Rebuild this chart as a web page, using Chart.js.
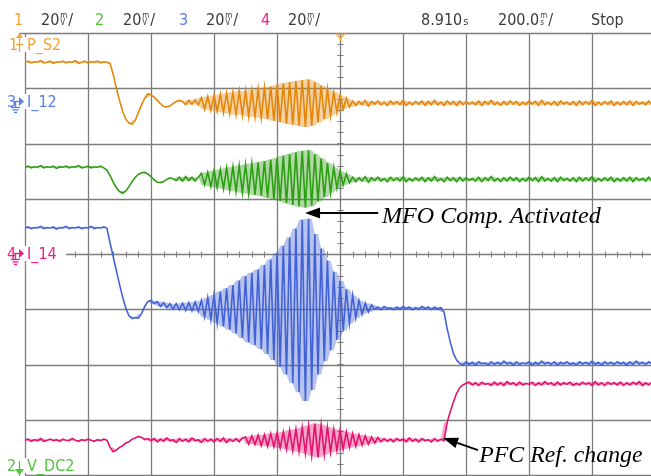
<!DOCTYPE html>
<html>
<head>
<meta charset="utf-8">
<script src="https://cdn.jsdelivr.net/npm/chart.js@4.4.1/dist/chart.umd.min.js"></script>
<style>
  html, body { margin: 0; padding: 0; background: #fff; }
  #wrap { width: 651px; height: 476px; position: relative; }
</style>
</head>
<body>
<div id="wrap"><canvas id="scope"></canvas></div>
<script>
// Sample time base: 200 samples, 10 ms apart, trigger at sample 100 (200 ms/div)
const timeMs = Array.from({ length: 200 }, (_, i) => (i - 100) * 10);

// Channel readings in screen divisions (20 V/div on every channel)
const pS2 = [
  3.47, 3.49, 3.46, 3.48, 3.47, 3.50, 3.46, 3.47, 3.49, 3.45, 3.48, 3.47, 3.49, 3.46, 3.48, 3.47, 3.50, 3.45, 3.47, 3.49, 3.46, 3.48, 3.47, 3.49, 3.46, 3.48, 3.47,
  3.45, 3.25, 3.00, 2.78, 2.58, 2.44, 2.37, 2.35, 2.42, 2.56, 2.70, 2.82, 2.90, 2.88, 2.84, 2.78, 2.72, 2.67, 2.66, 2.68, 2.72, 2.76, 2.78, 2.76, 2.70, 2.78, 2.71, 2.79, 2.70,
  2.83, 2.62, 2.85, 2.60, 2.87, 2.58, 2.89, 2.56, 2.91, 2.54, 2.93, 2.52, 2.95, 2.51, 2.96, 2.49, 2.97, 2.48, 2.99, 2.46,
  3.01, 2.44, 3.03, 2.41, 3.06, 2.39, 3.09, 2.36, 3.11, 2.34, 3.13, 2.32, 3.15, 2.30, 3.16, 2.32, 3.11, 2.38, 3.05, 2.44,
  2.99, 2.50, 2.93, 2.56, 2.87, 2.62, 2.82, 2.66,
  2.77, 2.69, 2.76, 2.70, 2.78, 2.68, 2.76, 2.71, 2.77, 2.70, 2.75, 2.69, 2.77, 2.71, 2.76, 2.70,
  2.78, 2.69, 2.75, 2.70, 2.76, 2.71, 2.77, 2.69, 2.76, 2.70, 2.78, 2.70, 2.75, 2.69, 2.77, 2.71,
  2.76, 2.69, 2.77, 2.70, 2.76, 2.71, 2.75, 2.70, 2.77, 2.69, 2.76, 2.71, 2.78, 2.70, 2.75, 2.69,
  2.76, 2.70, 2.77, 2.71, 2.76, 2.69, 2.75, 2.70, 2.77, 2.71, 2.76, 2.69, 2.78, 2.70, 2.75, 2.70,
  2.76, 2.69, 2.77, 2.71, 2.75, 2.70, 2.76, 2.69, 2.77, 2.70, 2.76, 2.71, 2.78, 2.69, 2.75, 2.70,
  2.76, 2.71, 2.77, 2.69, 2.75, 2.70, 2.76, 2.70, 2.77, 2.69, 2.76, 2.71, 2.75, 2.70, 2.77, 2.70
];

const vDC2 = [
  1.57, 1.59, 1.56, 1.58, 1.57, 1.60, 1.56, 1.58, 1.57, 1.59, 1.55, 1.58, 1.57, 1.59, 1.56, 1.58, 1.57, 1.60, 1.56, 1.57, 1.59, 1.56, 1.58, 1.57, 1.59, 1.56,
  1.52, 1.42, 1.30, 1.20, 1.13, 1.10, 1.14, 1.22, 1.31, 1.39, 1.44, 1.47, 1.48, 1.45, 1.40, 1.34, 1.30, 1.29, 1.31, 1.35, 1.38, 1.36, 1.33, 1.39, 1.32, 1.40, 1.33, 1.39, 1.32, 1.39,
  1.46, 1.25, 1.48, 1.22, 1.51, 1.20, 1.53, 1.18, 1.56, 1.15, 1.58, 1.13, 1.60, 1.11, 1.62, 1.09, 1.64, 1.07, 1.66, 1.05,
  1.68, 1.02, 1.71, 0.99, 1.74, 0.96, 1.78, 0.92, 1.81, 0.89, 1.84, 0.86, 1.87, 0.84, 1.88, 0.87, 1.81, 0.95, 1.73, 1.03,
  1.65, 1.11, 1.57, 1.19, 1.50, 1.25, 1.45, 1.29,
  1.39, 1.31, 1.38, 1.32, 1.40, 1.30, 1.38, 1.33, 1.39, 1.32, 1.37, 1.31, 1.39, 1.33, 1.38, 1.32,
  1.40, 1.31, 1.37, 1.32, 1.38, 1.33, 1.39, 1.31, 1.38, 1.32, 1.40, 1.32, 1.37, 1.31, 1.39, 1.33,
  1.38, 1.31, 1.39, 1.32, 1.38, 1.33, 1.37, 1.32, 1.39, 1.31, 1.38, 1.33, 1.40, 1.32, 1.37, 1.31,
  1.38, 1.32, 1.39, 1.33, 1.38, 1.31, 1.37, 1.32, 1.39, 1.33, 1.38, 1.31, 1.40, 1.32, 1.37, 1.32,
  1.38, 1.31, 1.39, 1.33, 1.37, 1.32, 1.38, 1.31, 1.39, 1.32, 1.38, 1.33, 1.40, 1.31, 1.37, 1.32,
  1.38, 1.33, 1.39, 1.31, 1.37, 1.32, 1.38, 1.32, 1.39, 1.31, 1.38, 1.33, 1.37, 1.32, 1.39, 1.32
];

const i12 = [
  0.47, 0.49, 0.46, 0.48, 0.47, 0.50, 0.46, 0.48, 0.47, 0.49, 0.45, 0.48, 0.47, 0.50, 0.46, 0.48, 0.47, 0.49, 0.46, 0.48, 0.47, 0.50, 0.46, 0.48, 0.47, 0.49, 0.47,
  0.20, -0.05, -0.30, -0.55, -0.78, -0.98, -1.12, -1.17, -1.15, -1.16, -1.08, -0.95, -0.86, -0.84, -0.90, -0.86, -0.95, -0.88, -0.97, -0.90,
  -1.00, -0.90, -1.01, -0.89, -1.02, -0.88, -1.03, -0.87, -1.04,
  -0.84, -1.14, -0.79, -1.19, -0.74, -1.25, -0.68, -1.31, -0.62, -1.37, -0.56, -1.44, -0.48, -1.52, -0.40, -1.60, -0.34, -1.65, -0.28, -1.72,
  -0.20, -1.81, -0.10, -1.92, 0.02, -2.04, 0.15, -2.18, 0.30, -2.34, 0.46, -2.50, 0.62, -2.66, 0.64, -2.46, 0.36, -2.18, 0.10, -1.94,
  -0.12, -1.74, -0.32, -1.55, -0.49, -1.39, -0.64, -1.26, -0.75, -1.16, -0.84, -1.09, -0.89, -1.05, -0.92,
  -1.00, -0.96, -1.01, -0.95, -0.99, -0.97, -1.01, -0.96, -1.00, -0.95, -0.99, -0.96, -1.01, -0.97, -1.00, -0.95, -0.99, -0.96, -1.01, -0.96, -1.00, -0.97,
  -1.05, -1.35, -1.60, -1.80, -1.92, -1.98, -2.01,
  -1.95, -2.00, -1.96, -2.01, -1.95, -1.99, -1.97, -2.01, -1.95, -2.00, -1.96, -2.00, -1.94, -1.99, -1.96, -2.01, -1.95, -2.00, -1.97, -1.99,
  -1.95, -2.01, -1.96, -2.00, -1.94, -1.99, -1.96, -2.00, -1.95, -2.01, -1.96, -1.99, -1.95, -2.00, -1.97, -2.01, -1.95, -1.99, -1.96, -2.00,
  -1.94, -2.00, -1.96, -2.01, -1.95, -1.99, -1.96, -2.00, -1.95, -1.99, -1.96, -2.01, -1.95, -2.00, -1.94, -1.99, -1.96, -2.00, -1.95, -1.99
];

const i14 = [
  -3.37, -3.35, -3.39, -3.36, -3.38, -3.34, -3.39, -3.37, -3.35, -3.38, -3.36, -3.39, -3.35, -3.37, -3.38, -3.34, -3.37, -3.39, -3.36, -3.38, -3.35, -3.37, -3.39, -3.36, -3.38, -3.35, -3.37,
  -3.50, -3.58, -3.55, -3.50, -3.47, -3.42, -3.40, -3.35, -3.33, -3.30, -3.32, -3.36, -3.34, -3.38,
  -3.34, -3.40, -3.35, -3.39, -3.33, -3.38, -3.36, -3.41, -3.34, -3.39, -3.35, -3.40, -3.33, -3.38, -3.36, -3.41, -3.34, -3.39, -3.35, -3.40,
  -3.34, -3.39, -3.33, -3.41, -3.35, -3.39, -3.34, -3.40, -3.33,
  -3.31, -3.44, -3.29, -3.45, -3.28, -3.47, -3.27, -3.48, -3.25, -3.49, -3.24, -3.51, -3.22, -3.53, -3.19, -3.56, -3.17, -3.58, -3.14, -3.61,
  -3.11, -3.65, -3.07, -3.68, -3.09, -3.63, -3.13, -3.59, -3.17, -3.56, -3.19, -3.53, -3.22, -3.50, -3.25, -3.48, -3.27, -3.46, -3.29, -3.44,
  -3.31, -3.42, -3.32,
  -3.40, -3.34, -3.39, -3.35, -3.40, -3.34, -3.38, -3.35, -3.40, -3.33, -3.39, -3.35, -3.40, -3.34, -3.38, -3.36, -3.40, -3.34, -3.39, -3.35, -3.38,
  -3.05, -2.85, -2.68, -2.52, -2.42, -2.37, -2.34,
  -2.32, -2.37, -2.33, -2.38, -2.32, -2.36, -2.34, -2.38, -2.32, -2.37, -2.33, -2.38, -2.31, -2.36, -2.33, -2.38, -2.32, -2.37, -2.34, -2.36,
  -2.32, -2.38, -2.33, -2.37, -2.31, -2.36, -2.33, -2.38, -2.32, -2.37, -2.33, -2.36, -2.32, -2.38, -2.34, -2.37, -2.32, -2.36, -2.33, -2.38,
  -2.31, -2.37, -2.33, -2.38, -2.32, -2.36, -2.33, -2.37, -2.32, -2.38, -2.33, -2.37, -2.32, -2.36, -2.31, -2.38, -2.33, -2.37, -2.32
];

const channelNames = ['P_S2', 'V_DC2', 'I_12', 'I_14'];
const channelNumbers = ['1', '2', '3', '4'];
const traceColors = ['#E3870B', '#2D9E13', '#4262D4', '#E2136E'];
const labelColors = ['#F2A33A', '#4FC43C', '#5A7CEB', '#F0207F'];
const traceValues = [pS2, vDC2, i12, i14];

const HEAD_FONT = '16px "Liberation Sans Narrow", "DejaVu Sans Condensed", sans-serif';
const UNIT_FONT = '8px "Liberation Sans Narrow", "DejaVu Sans Condensed", sans-serif';
const LABEL_FONT = '16px "Liberation Sans Narrow", "DejaVu Sans Condensed", sans-serif';
const NOTE_FONT = '"Liberation Serif", "DejaVu Serif", serif';

function line(ctx, x1, y1, x2, y2) {
  ctx.beginPath();
  ctx.moveTo(x1, y1);
  ctx.lineTo(x2, y2);
  ctx.stroke();
}

function withAlpha(hex, a) {
  const n = parseInt(hex.slice(1), 16);
  return `rgba(${n >> 16},${(n >> 8) & 255},${n & 255},${a})`;
}

// graticule, centre-line ticks and the light band inside each burst
const screenPlugin = {
  id: 'screen',
  beforeDatasetsDraw(chart) {
    const { ctx, chartArea: a, scales: { x, y } } = chart;
    ctx.save();
    ctx.strokeStyle = '#7d7d7d';
    ctx.lineWidth = 1.3;
    for (let k = 0; k <= 10; k++) {
      const px = Math.round(x.getPixelForValue(-1000 + 200 * k)) + 0.5;
      line(ctx, px, a.top, px, a.bottom);
    }
    for (let k = -4; k <= 4; k++) {
      const py = Math.round(y.getPixelForValue(k)) + 0.5;
      line(ctx, k === 4 ? a.left - 6 : a.left, py, a.right, py);
    }
    const cx = Math.round(x.getPixelForValue(0)) + 0.5;
    const cy = Math.round(y.getPixelForValue(0)) + 0.5;
    ctx.lineWidth = 1;
    for (let t = -1000; t <= 1000; t += 40) {
      const px = Math.round(x.getPixelForValue(t)) + 0.5;
      line(ctx, px, cy - 3, px, cy + 3);
    }
    for (let v = -4; v <= 4.001; v += 0.2) {
      const py = Math.round(y.getPixelForValue(v)) + 0.5;
      line(ctx, cx - 3, py, cx + 3, py);
    }

    ctx.beginPath();
    ctx.rect(a.left, a.top, a.right - a.left, a.bottom - a.top);
    ctx.clip();
    chart.data.datasets.forEach((ds, di) => {
      const pts = chart.getDatasetMeta(di).data;
      const upper = [], lower = [];
      pts.forEach((p, i) => {
        const prev = pts[Math.max(0, i - 1)], next = pts[Math.min(pts.length - 1, i + 1)];
        // only oscillating stretches get a band; ramps stay a plain line
        const swings = (p.y - prev.y) * (next.y - p.y) < 0;
        const ys = swings ? [prev.y, p.y, next.y] : [p.y];
        upper.push({ x: p.x, y: Math.min(...ys) });
        lower.push({ x: p.x, y: Math.max(...ys) });
      });
      ctx.beginPath();
      upper.forEach((p, i) => (i ? ctx.lineTo(p.x, p.y) : ctx.moveTo(p.x, p.y)));
      for (let i = lower.length - 1; i >= 0; i--) ctx.lineTo(lower[i].x, lower[i].y);
      ctx.closePath();
      ctx.fillStyle = withAlpha(ds.borderColor, 0.38);
      ctx.fill();
    });
    ctx.restore();
  }
};

function perDiv(ctx, x, base, value, top, bottom) {
  ctx.font = HEAD_FONT;
  ctx.fillText(value, x, base);
  const w = ctx.measureText(value).width;
  ctx.font = UNIT_FONT;
  ctx.fillText(top, x + w + 1, base - 7);
  ctx.fillText(bottom, x + w + 1, base);
  const uw = Math.max(ctx.measureText(top).width, ctx.measureText(bottom).width);
  ctx.font = HEAD_FONT;
  ctx.fillText('/', x + w + uw + 2, base);
}

function fitFont(ctx, text, width, style) {
  let size = 30;
  ctx.font = `${style} ${size}px ${NOTE_FONT}`;
  size *= width / ctx.measureText(text).width;
  return `${style} ${size.toFixed(1)}px ${NOTE_FONT}`;
}

// Arrow notes placed in data coordinates (ms, div)
const notes = [
  { text: 'MFO Comp. Activated', tip: [-111, 0.74], tail: [121, 0.74], at: [133, 0.56], width: 219 },
  { text: 'PFC Ref. change', tip: [327, -3.33], tail: [438, -3.55], at: [442, -3.76], width: 163 }
];

// channel tags on the left edge: [channel index, label centre y]
const tags = [[0, 44], [2, 101], [3, 253], [1, 465]];

const overlayPlugin = {
  id: 'overlay',
  afterDraw(chart) {
    const { ctx, scales: { x, y } } = chart;
    ctx.save();
    ctx.textBaseline = 'alphabetic';

    // header line
    const base = 25;
    const chX = [14, 95, 179, 261];
    const scX = [41, 123, 206, 288];
    chX.forEach((cx, i) => {
      ctx.font = HEAD_FONT;
      ctx.fillStyle = labelColors[i];
      ctx.fillText(channelNumbers[i], cx, base);
      ctx.fillStyle = '#3a3a3a';
      perDiv(ctx, scX[i], base, '20', 'm', 'V');
    });
    ctx.fillStyle = '#3a3a3a';
    ctx.font = HEAD_FONT;
    ctx.fillText('8.910', 421, base);
    const w = ctx.measureText('8.910').width;
    ctx.font = '11px "Liberation Sans Narrow", "DejaVu Sans Condensed", sans-serif';
    ctx.fillText('s', 421 + w + 1, base);
    perDiv(ctx, 498, base, '200.0', 'm', 's');
    ctx.font = HEAD_FONT;
    ctx.fillText('Stop', 591, base);

    // trigger position marker
    const tx = Math.round(x.getPixelForValue(0)) + 0.5;
    ctx.strokeStyle = '#F2A33A';
    ctx.lineWidth = 1.6;
    ctx.beginPath();
    ctx.moveTo(tx - 5, 33);
    ctx.lineTo(tx, 38);
    ctx.lineTo(tx + 5, 33);
    ctx.stroke();
    line(ctx, tx, 38, tx, 41);

    // clear the graticule behind every tag first, then draw the tags
    ctx.font = LABEL_FONT;
    ctx.fillStyle = '#fff';
    tags.forEach(([ci, ty]) => {
      ctx.fillRect(0, ty - 7, 66 + (ci === 1 ? 10 : 0), 15);
    });
    tags.forEach(([ci, ty]) => {
      const col = labelColors[ci];
      ctx.fillStyle = col;
      ctx.strokeStyle = col;
      ctx.lineWidth = 1.3;
      ctx.fillText(channelNumbers[ci], ci === 0 ? 9 : 7, ty + 6);
      ctx.fillText(channelNames[ci], 27, ty + 6);
      if (ci === 0) {
        line(ctx, 19.5, 36, 19.5, 52);
        line(ctx, 16, 44.5, 23, 44.5);
        ctx.beginPath();
        ctx.moveTo(16, 38); ctx.lineTo(19.5, 33); ctx.lineTo(23, 38); ctx.closePath(); ctx.fill();
      } else if (ci === 1) {
        line(ctx, 19.5, ty - 4, 19.5, 476);
        ctx.beginPath();
        ctx.moveTo(15, ty + 4); ctx.lineTo(19.5, ty + 10); ctx.lineTo(24, ty + 4); ctx.closePath(); ctx.fill();
      } else {
        line(ctx, 14, ty + 0.5, 20, ty + 0.5);
        ctx.beginPath();
        ctx.moveTo(19, ty - 4); ctx.lineTo(24, ty + 0.5); ctx.lineTo(19, ty + 5); ctx.closePath(); ctx.fill();
        line(ctx, 15.5, ty, 15.5, ty + 6);
        line(ctx, 11, ty + 6.5, 20, ty + 6.5);
        line(ctx, 12.5, ty + 9, 18.5, ty + 9);
        line(ctx, 14, ty + 11.5, 17, ty + 11.5);
      }
    });

    // arrow notes
    ctx.fillStyle = '#000';
    ctx.strokeStyle = '#000';
    notes.forEach(n => {
      const px = x.getPixelForValue(n.tip[0]), py = y.getPixelForValue(n.tip[1]);
      const qx = x.getPixelForValue(n.tail[0]), qy = y.getPixelForValue(n.tail[1]);
      const ang = Math.atan2(py - qy, px - qx);
      const len = 15, half = 5.5;
      const bx = px - len * Math.cos(ang), by = py - len * Math.sin(ang);
      ctx.lineWidth = 2;
      line(ctx, qx, qy, bx, by);
      ctx.beginPath();
      ctx.moveTo(px, py);
      ctx.lineTo(bx + half * Math.sin(ang), by - half * Math.cos(ang));
      ctx.lineTo(bx - half * Math.sin(ang), by + half * Math.cos(ang));
      ctx.closePath();
      ctx.fill();
      ctx.font = fitFont(ctx, n.text, n.width, 'italic');
      ctx.fillText(n.text, x.getPixelForValue(n.at[0]), y.getPixelForValue(n.at[1]));
    });
    ctx.restore();
  }
};

new Chart(document.getElementById('scope'), {
  type: 'line',
  data: {
    datasets: traceValues.map((vals, i) => ({
      label: channelNames[i],
      data: vals.map((v, k) => ({ x: timeMs[k], y: v })),
      borderColor: traceColors[i],
      borderWidth: 1.6,
      pointRadius: 0,
      tension: 0,
      fill: false
    }))
  },
  options: {
    responsive: true,
    maintainAspectRatio: false,
    animation: false,
    layout: { padding: { left: 25, top: 33, right: 0, bottom: 1 } },
    plugins: { legend: { display: false }, tooltip: { enabled: false } },
    scales: {
      x: { type: 'linear', min: -1000, max: 987, display: false },
      y: { min: -4, max: 4, display: false }
    }
  },
  plugins: [screenPlugin, overlayPlugin]
});
</script>
</body>
</html>
